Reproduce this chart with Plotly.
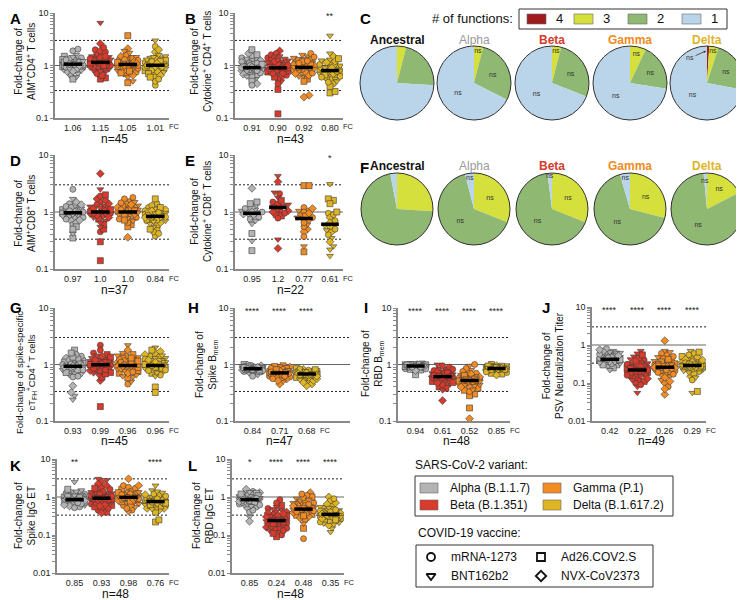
import numpy as np
import plotly.graph_objects as go

# page body keeps an 8px margin, so the figure is drawn 8px smaller and all
# reference pixel positions are shifted by OFF
OFF = 8
W, H = 744 - OFF, 600 - OFF
FONT = "Arial, Liberation Sans, sans-serif"

variants = ['Alpha', 'Beta', 'Gamma', 'Delta']
variant_colors = {'Alpha': '#b3b3b3', 'Beta': '#d83a2b', 'Gamma': '#f28b24', 'Delta': '#dfb523'}
vaccine_symbols = {'M': 'circle', 'B': 'triangle-down', 'A': 'square', 'N': 'diamond'}

# vaccine of each participant (same order in every panel)
participant_vaccine = ['M', 'B', 'A', 'N', 'M', 'B', 'M', 'A', 'B', 'N', 'M', 'B', 'A', 'M', 'N', 'B', 'M',
                       'B', 'A', 'N', 'M', 'B', 'M', 'A', 'N', 'B', 'M', 'B', 'A', 'N', 'M', 'B', 'M', 'A',
                       'N', 'B', 'M', 'B', 'A', 'N', 'M', 'B', 'M', 'A', 'N', 'B', 'M', 'B', 'N']

# ---- A: AIM+ CD4+ (n=45)
A_alpha = [1.05,0.98,1.2,0.85,1.1,1.3,0.92,1.0,1.15,0.75,1.4,1.08,0.95,1.25,0.88,1.6,1.02,0.7,1.12,0.97,1.35,0.8,1.18,1.5,0.9,1.06,0.65,1.22,1.0,0.85,1.9,1.1,0.93,1.3,0.78,1.45,1.04,0.6,1.16,0.99,2.05,0.88,1.28,0.55,1.07]
A_beta = [1.2,6.5,0.58,1.1,1.4,0.95,1.3,0.55,1.05,2.6,1.15,0.85,1.7,1.25,0.9,1.5,1.0,0.75,1.35,1.1,2.0,0.8,1.2,1.6,0.95,1.45,0.7,1.3,1.05,1.9,0.88,1.15,1.25,0.65,1.4,1.0,1.8,0.92,1.2,1.1,2.2,0.78,1.35,1.0,1.5]
A_gamma = [1.0,0.9,3.7,1.2,1.1,0.8,1.3,0.47,1.05,1.5,0.95,1.15,0.7,1.4,1.0,0.85,1.25,0.6,1.1,2.1,0.92,1.2,0.75,1.35,1.05,0.5,1.6,0.98,1.1,0.82,1.3,1.75,0.88,1.15,0.65,1.45,1.0,1.9,0.78,1.2,1.05,0.95,1.25,0.72,1.1]
A_delta = [0.95,1.1,0.8,1.3,0.42,1.0,1.2,0.7,1.5,0.9,1.05,3.0,0.6,1.15,0.85,1.4,0.98,0.75,1.25,1.8,0.5,1.1,0.92,1.35,0.65,1.0,2.3,0.88,1.2,0.78,1.05,1.6,0.55,1.15,0.95,1.45,0.82,1.3,0.7,2.0,1.0,0.9,1.2,0.6,1.1]
A_fc = ['1.06', '1.15', '1.05', '1.01']

# ---- B: Cytokine+ CD4+ (n=43)
B_alpha = [0.9,1.1,0.75,1.3,0.85,1.0,0.65,1.5,0.95,0.8,1.2,0.55,1.05,0.88,1.7,0.7,0.98,1.15,0.6,0.92,1.4,0.82,1.0,0.5,1.25,0.78,1.1,0.95,2.0,0.68,0.9,1.35,0.72,1.05,0.45,0.86,1.18,0.62,1.6,0.93,0.8,1.0,0.42]
B_beta = [0.95,1.2,0.35,0.8,1.4,0.7,1.0,0.12,1.1,0.6,1.3,0.88,0.75,1.6,0.92,0.5,1.05,1.25,0.82,1.9,0.65,1.0,1.45,0.78,0.95,1.15,0.55,1.35,0.9,0.72,1.7,0.85,1.08,0.6,1.2,0.98,0.45,1.5,0.8,1.02,0.7,1.28,0.9]
B_gamma = [0.95,1.1,0.8,0.27,1.3,0.7,1.0,0.88,1.5,0.25,1.2,0.6,0.92,1.05,0.75,1.4,0.85,1.15,0.55,1.0,1.7,0.78,0.95,1.25,0.65,1.08,0.9,1.35,0.5,1.0,0.82,1.6,0.72,1.18,0.97,0.62,1.45,0.86,1.02,0.7,1.22,0.93,1.1]
B_delta = [0.8,3.7,0.3,0.9,1.1,0.65,0.75,0.32,1.3,0.55,0.85,0.7,1.0,0.6,1.5,0.78,0.45,0.95,0.68,1.2,0.82,0.5,1.05,0.72,0.88,1.7,0.62,0.8,0.4,1.15,0.75,0.92,0.58,1.35,0.7,0.85,0.48,1.0,0.66,0.9,0.6,1.25,0.77]
B_fc = ['0.91', '0.90', '0.92', '0.80']
B_stars = ['', '', '', '**']

# ---- D: AIM+ CD8+ (n=37)
D_alpha = [1.0,0.9,0.35,1.2,2.5,0.42,0.8,1.1,0.95,0.7,1.3,0.85,1.05,0.6,1.5,0.92,0.75,1.15,1.0,0.65,1.4,0.88,1.25,0.55,0.98,1.1,0.8,1.7,0.95,0.72,1.2,0.9,1.05,0.5,1.35,0.85,1.0]
D_beta = [1.0,2.5,0.14,4.7,1.2,0.8,1.5,0.3,0.9,1.1,0.45,1.3,0.5,0.95,1.7,0.7,1.05,1.25,0.6,1.4,0.85,1.0,1.9,0.75,1.15,0.92,1.6,0.65,1.1,0.88,1.35,0.55,1.0,2.0,0.8,1.2,0.95]
D_gamma = [1.0,1.2,0.6,0.36,1.4,0.9,1.1,0.55,1.3,1.0,0.8,1.6,1.05,0.75,1.2,0.95,1.8,0.7,1.15,1.0,0.85,1.5,0.65,1.25,0.92,1.1,1.7,0.78,1.05,1.35,0.88,1.0,1.45,0.72,1.2,0.98,1.1]
D_delta = [0.85,0.7,0.5,1.0,0.38,0.9,1.2,0.6,0.8,1.1,0.45,0.95,0.75,1.4,0.65,0.88,1.05,0.55,1.7,0.82,0.7,1.15,0.92,0.5,1.0,0.78,1.3,0.62,0.86,1.05,0.72,0.95,0.42,1.2,0.8,0.68,0.98]
D_fc = ['0.97', '1.0', '1.0', '0.84']

# ---- E: Cytokine+ CD8+ (n=22)
E_alpha = [0.95,1.1,0.21,2.6,1.0,0.31,1.3,0.42,0.9,1.2,0.8,1.05,1.5,0.75,1.0,0.85,1.15,0.62,1.4,0.92,1.0,0.7]
E_beta = [1.2,4.3,1.0,3.4,1.5,0.33,2.1,0.9,1.3,0.23,1.1,2.2,0.85,1.4,1.0,1.8,0.78,1.25,1.6,1.05,0.95,1.35]
E_gamma = [0.8,1.1,2.9,0.5,1.2,0.25,0.9,2.9,0.7,0.45,1.0,0.6,0.85,0.37,1.15,0.75,0.55,1.05,0.2,0.95,0.65,0.8]
E_delta = [0.6,3.1,1.6,0.45,0.95,0.25,0.5,1.7,0.35,0.8,0.55,0.17,1.4,0.4,0.65,0.22,0.9,0.48,1.0,0.3,0.7,0.58]
E_fc = ['0.95', '1.2', '0.77', '0.61']
E_stars = ['', '', '', '*']

# ---- G: spike-specific cTFH (n=45)
G_alpha = [0.95,0.28,1.8,0.42,1.0,0.24,0.9,1.1,0.85,0.32,1.2,0.8,1.05,0.75,1.3,0.92,1.0,0.7,1.15,0.88,1.4,0.65,0.98,1.25,0.82,1.05,0.6,0.95,1.1,0.78,1.5,0.9,1.0,0.72,1.2,0.86,1.02,0.68,1.35,0.94,0.8,1.08,0.62,1.6,0.9]
G_beta = [1.0,1.2,0.18,0.52,2.2,0.9,1.1,0.8,1.3,0.95,1.05,0.7,1.5,0.88,1.0,1.15,0.75,1.25,0.6,1.4,0.92,1.0,1.8,0.82,1.1,0.65,1.2,0.97,1.35,0.78,1.05,0.9,1.6,0.72,1.0,1.15,0.85,1.3,0.68,1.08,0.95,1.45,0.8,1.0,1.2]
G_gamma = [0.95,1.2,0.8,1.1,0.45,1.0,1.4,0.7,2.2,0.9,1.05,0.6,1.3,0.85,1.15,0.5,1.0,1.6,0.75,0.92,1.25,0.65,1.1,0.88,1.8,0.78,1.0,1.35,0.58,0.96,1.2,0.82,1.05,1.5,0.7,0.9,1.1,0.62,1.3,0.86,1.0,1.45,0.74,1.15,0.94]
G_delta = [1.0,1.2,0.4,0.85,1.4,2.0,0.9,0.32,1.1,0.75,1.05,1.3,0.95,0.65,1.6,0.88,1.0,1.2,0.7,1.5,0.92,1.1,0.8,1.8,0.97,0.62,1.25,0.85,1.05,1.35,0.78,1.0,1.15,0.9,1.7,0.72,1.02,1.3,0.86,1.1,0.95,1.45,0.8,1.0,1.2]
G_fc = ['0.93', '0.99', '0.96', '0.96']

# ---- H: Spike Bmem (n=47), Alpha / Gamma / Delta
H_alpha = [0.84,0.9,0.78,0.95,0.82,0.88,0.75,1.0,0.86,0.8,0.92,0.7,0.85,0.97,0.83,0.77,0.89,0.65,0.87,0.93,0.81,0.9,0.74,0.86,0.98,0.8,0.84,0.72,0.91,0.85,0.79,0.94,0.83,0.88,0.76,0.86,0.62,0.9,0.82,0.87,0.78,0.95,0.84,0.8,0.89,0.85,0.81]
H_gamma = [0.72,0.65,0.8,0.9,0.6,0.75,0.68,0.95,0.7,0.55,0.78,0.73,0.85,0.62,0.7,0.5,0.76,0.66,0.88,0.71,0.58,0.74,0.82,0.69,0.45,0.77,0.64,0.72,0.92,0.6,0.7,0.8,0.67,0.75,0.52,0.73,0.86,0.63,0.71,0.78,0.56,0.69,0.74,0.81,0.66,0.72,0.62]
H_delta = [0.68,0.6,0.75,0.82,0.55,0.7,0.64,0.85,0.5,0.72,0.66,0.78,0.58,0.69,0.45,0.74,0.62,0.8,0.67,0.52,0.71,0.6,0.76,0.65,0.42,0.7,0.83,0.63,0.68,0.56,0.73,0.61,0.79,0.66,0.48,0.7,0.64,0.77,0.59,0.69,0.72,0.54,0.67,0.81,0.62,0.7,0.65]
H_fc = ['0.84', '0.71', '0.68']
H_stars = ['****', '****', '****']

# ---- I: RBD Bmem (n=48)
I_alpha = [0.94,0.9,0.66,1.0,0.92,0.96,0.88,1.02,0.95,0.85,0.98,0.93,0.8,0.97,0.91,1.05,0.94,0.87,0.99,0.92,0.84,0.96,0.9,1.0,0.93,0.86,0.98,0.95,0.82,0.94,1.01,0.89,0.96,0.92,0.78,0.97,0.93,0.88,1.0,0.95,0.9,0.94,0.83,0.98,0.92,0.96,0.9,0.94]
I_beta = [0.6,0.7,0.5,0.23,0.8,0.55,0.65,0.45,1.0,0.62,0.58,0.75,0.4,0.68,0.52,0.85,0.6,0.72,0.48,0.64,0.9,0.56,0.66,0.38,0.7,0.61,0.78,0.5,0.63,0.55,0.82,0.67,0.44,0.6,0.74,0.57,0.65,0.35,0.69,0.59,0.95,0.53,0.62,0.71,0.47,0.66,0.58,0.64]
I_gamma = [0.5,0.6,0.17,0.11,0.7,0.45,0.55,0.35,0.95,0.52,0.4,0.65,0.3,0.58,0.48,0.8,0.5,0.62,0.38,0.54,1.0,0.44,0.57,0.28,0.6,0.5,0.72,0.42,0.53,0.46,0.85,0.56,0.33,0.51,0.68,0.47,0.59,0.36,0.55,0.49,0.75,0.43,0.52,0.64,0.4,0.57,0.5,0.54]
I_delta = [0.85,0.9,0.78,0.95,0.82,0.88,0.72,1.0,0.86,0.8,0.92,0.84,0.7,0.87,0.83,0.97,0.85,0.79,0.9,0.81,0.75,0.88,0.84,0.93,0.86,0.77,0.89,0.82,0.68,0.85,0.91,0.8,0.87,0.83,0.65,0.9,0.84,0.78,0.94,0.86,0.81,0.85,0.74,0.88,0.83,0.87,0.8,0.85]
I_fc = ['0.94', '0.61', '0.52', '0.85']
I_stars = ['****', '****', '****', '****']

# ---- J: PSV neutralization (n=49)
J_alpha = [0.42,0.5,0.35,0.6,0.45,0.38,0.55,0.3,0.7,0.44,0.4,0.48,0.25,0.52,0.36,0.65,0.43,0.33,0.58,0.41,0.46,0.28,0.8,0.39,0.5,0.42,0.32,0.62,0.44,0.37,0.54,0.22,0.47,0.4,0.68,0.35,0.45,0.5,0.3,0.43,0.57,0.38,0.48,0.41,0.75,0.34,0.46,0.4,0.52]
J_beta = [0.22,0.055,0.3,0.15,0.4,0.2,0.12,0.25,0.6,0.18,0.1,0.28,0.22,0.35,0.14,0.08,0.24,0.5,0.19,0.3,0.16,0.7,0.21,0.11,0.26,0.33,0.17,0.23,0.45,0.13,0.2,0.29,0.09,0.25,0.38,0.18,0.22,0.15,0.55,0.27,0.2,0.12,0.31,0.24,0.19,0.42,0.16,0.23,0.21]
J_gamma = [0.26,0.35,0.2,1.3,0.4,0.15,0.3,0.55,0.22,0.1,0.28,0.7,0.18,0.33,0.05,0.25,0.45,0.12,0.3,0.24,0.6,0.2,0.08,0.36,0.27,0.16,0.5,0.23,0.32,0.14,0.29,0.65,0.21,0.26,0.07,0.38,0.19,0.3,0.42,0.25,0.17,0.34,0.22,0.28,0.11,0.48,0.24,0.31,0.26]
J_delta = [0.29,0.055,0.06,0.35,0.4,0.22,0.3,0.5,0.25,0.15,0.32,0.7,0.27,0.2,0.38,0.3,0.12,0.45,0.26,0.33,0.6,0.24,0.28,0.18,0.36,0.31,0.55,0.21,0.3,0.42,0.27,0.14,0.34,0.25,0.48,0.29,0.23,0.37,0.65,0.3,0.26,0.19,0.33,0.28,0.4,0.24,0.32,0.27,0.3]
J_fc = ['0.42', '0.22', '0.26', '0.29']
J_stars = ['****', '****', '****', '****']

# ---- K: Spike IgG ET (n=48)
K_alpha = [0.85,2.5,0.7,1.1,0.9,0.6,1.2,0.8,0.95,0.65,1.3,0.75,1.0,0.55,0.88,1.5,0.78,0.92,0.68,1.05,0.82,1.4,0.72,0.9,0.58,1.15,0.86,0.76,1.0,0.62,1.25,0.84,0.7,0.96,0.8,1.1,0.66,0.89,1.6,0.74,0.93,0.83,0.52,1.02,0.79,0.87,0.71,0.9]
K_beta = [0.9,3.0,0.5,1.2,0.7,1.5,0.95,0.4,1.1,2.5,0.8,1.3,0.6,1.0,1.8,0.75,0.45,1.15,0.88,2.0,0.65,1.05,1.4,0.55,0.92,2.8,0.72,1.25,0.85,0.38,1.6,0.97,0.68,1.1,2.2,0.78,0.5,1.35,0.9,0.62,1.2,1.0,0.82,1.7,0.58,0.94,1.05,0.86]
K_gamma = [1.0,1.3,0.8,3.0,0.6,1.1,0.9,1.6,0.7,1.2,0.45,1.05,0.85,2.0,0.95,0.65,1.4,1.0,0.75,1.15,1.8,0.55,0.92,1.25,0.82,1.5,1.0,0.4,1.1,0.88,1.7,0.7,1.2,0.97,0.6,1.35,0.9,1.05,0.78,2.0,0.95,1.1,0.5,1.3,0.86,1.0,1.15,0.92]
K_delta = [0.76,2.0,0.22,0.9,0.6,0.8,1.1,0.25,0.7,0.5,0.85,1.3,0.65,0.78,0.45,0.95,0.72,1.5,0.58,0.82,0.68,1.0,0.75,0.4,0.88,0.62,1.2,0.79,0.55,0.74,0.92,0.66,1.05,0.7,0.5,0.84,0.77,1.4,0.6,0.8,0.73,0.48,0.9,0.69,1.15,0.64,0.81,0.76]
K_fc = ['0.85', '0.93', '0.98', '0.76']
K_stars = ['**', '', '', '****']

# ---- L: RBD IgG ET (n=48)
L_alpha = [0.85,1.0,0.7,1.2,0.9,0.6,1.4,0.8,0.95,0.5,1.1,0.75,0.88,0.4,1.3,0.82,0.65,1.05,0.92,1.6,0.72,0.86,0.55,1.15,0.8,0.3,0.98,0.78,1.25,0.68,0.9,0.84,0.45,1.08,0.76,1.35,0.62,0.94,0.8,0.23,1.0,0.87,0.7,1.2,0.83,0.58,0.92,0.85]
L_beta = [0.24,0.3,0.15,0.4,0.2,0.12,0.5,0.26,0.18,0.35,0.1,0.22,0.6,0.28,0.16,0.45,0.25,0.13,0.32,0.21,0.85,0.19,0.27,0.09,0.38,0.23,0.14,0.55,0.29,0.2,0.17,0.42,0.24,0.11,0.33,0.26,0.7,0.18,0.22,0.3,0.15,0.48,0.25,0.2,0.36,0.23,0.13,0.27]
L_gamma = [0.48,0.6,0.35,1.3,0.08,0.5,0.7,0.4,0.9,0.3,0.55,0.45,1.0,0.25,0.62,0.52,0.38,0.8,0.15,0.5,0.66,0.42,1.1,0.33,0.57,0.47,0.75,0.2,0.53,0.44,0.95,0.36,0.6,0.49,0.28,0.7,0.43,0.85,0.51,0.39,0.64,0.46,1.2,0.32,0.58,0.5,0.41,0.55]
L_delta = [0.35,0.45,0.25,0.6,0.3,0.2,0.5,0.38,0.15,0.7,0.32,0.28,0.42,0.22,1.0,0.36,0.26,0.55,0.33,0.18,0.4,0.3,0.8,0.24,0.37,0.12,0.47,0.34,0.29,0.65,0.36,0.21,0.43,0.31,0.27,0.52,0.35,0.19,0.39,0.33,0.9,0.28,0.41,0.25,0.36,0.3,0.46,0.34]
L_fc = ['0.85', '0.24', '0.48', '0.35']
L_stars = ['*', '****', '****', '****']

# ---- C / F pies: % of cells with 4, 3, 2, 1 functions
func_labels = ['4', '3', '2', '1']
func_colors = ['#9e1c1c', '#d6e03c', '#8fb872', '#bad4ea']
pie_names = ['Ancestral', 'Alpha', 'Beta', 'Gamma', 'Delta']
pie_name_colors = ['#111111', '#9a9a9a', '#d63b2d', '#f08a24', '#dfb42a']
C_ancestral = [0, 4, 22, 74]
C_alpha = [0, 4, 28.5, 67.5]
C_beta = [0, 4, 27, 69]
C_gamma = [0, 7, 20.5, 72.5]
C_delta = [1, 4, 23, 72]
F_ancestral = [0, 26, 71, 3]
F_alpha = [0, 31, 65, 4]
F_beta = [0, 31, 67, 2]
F_gamma = [0, 29, 66.5, 4.5]
F_delta = [0, 17.5, 81, 1.5]


def xp(x):
    return max(x - OFF, 0) / W


def yp(y):
    return 1 - max(y - OFF, 0) / H


def swarm(values, center, ppu, ppd, r=3.9, step=1.7, max_off=11):
    ys = np.log10(values) * ppd
    order = np.argsort(ys)
    cands = [0.0]
    k = 1
    while k * step <= max_off:
        cands += [k * step, -k * step]
        k += 1
    placed = []
    offs = np.zeros(len(values))
    for i in order:
        y = ys[i]
        best = None
        for c in cands:
            if all((c - a) ** 2 + (y - b) ** 2 >= r * r for a, b in placed):
                best = c
                break
        if best is None:
            best = max(cands, key=lambda c: min((c - a) ** 2 + (y - b) ** 2 for a, b in placed))
        placed.append((best, y))
        offs[i] = best
    return center + offs / ppu


def log_ticks(lo, hi):
    vals, text = [], []
    for e in range(lo, hi):
        for m in range(1, 10):
            vals.append(m * 10.0 ** e)
            text.append(f'{10.0 ** e:g}' if m == 1 else '')
    vals.append(10.0 ** hi)
    text.append(f'{10.0 ** hi:g}')
    return vals, text


panels = [
    dict(letter='A', groups=variants, data=[A_alpha, A_beta, A_gamma, A_delta], fc=A_fc, stars=None, n=45,
         box=(55, 13, 169, 118), yr=(-1, 1), xr=(-0.65, 3.5),
         title='Fold-change of<br>AIM<sup>+</sup>CD4<sup>+</sup> T cells', txy=(25, 62), lxy=(1, 2)),
    dict(letter='B', groups=variants, data=[B_alpha, B_beta, B_gamma, B_delta], fc=B_fc, stars=B_stars, n=43,
         box=(235, 13, 343, 118), yr=(-1, 1), xr=(-0.65, 3.5),
         title='Fold-change of<br>Cytokine<sup>+</sup> CD4<sup>+</sup> T cells', txy=(201, 62), lxy=(183, 2)),
    dict(letter='D', groups=variants, data=[D_alpha, D_beta, D_gamma, D_delta], fc=D_fc, stars=None, n=37,
         box=(55, 155, 169, 269), yr=(-1, 1), xr=(-0.65, 3.5),
         title='Fold-change of<br>AIM<sup>+</sup>CD8<sup>+</sup> T cells', txy=(25, 214), lxy=(1, 150)),
    dict(letter='E', groups=variants, data=[E_alpha, E_beta, E_gamma, E_delta], fc=E_fc, stars=E_stars, n=22,
         box=(235, 155, 343, 269), yr=(-1, 1), xr=(-0.65, 3.5),
         title='Fold-change of<br>Cytokine<sup>+</sup> CD8<sup>+</sup> T cells', txy=(201, 212), lxy=(183, 150)),
    dict(letter='G', groups=variants, data=[G_alpha, G_beta, G_gamma, G_delta], fc=G_fc, stars=None, n=45,
         box=(55, 308, 169, 421), yr=(-1, 1), xr=(-0.65, 3.5),
         title='Fold-change of spike-specific<br>cT<sub>FH</sub><sup>+</sup>CD4<sup>+</sup> T cells',
         txy=(26, 373), tsize=9.5, lxy=(1, 297)),
    dict(letter='H', groups=['Alpha', 'Gamma', 'Delta'], data=[H_alpha, H_gamma, H_delta], fc=H_fc, stars=H_stars,
         n=47, box=(235, 308, 350, 421), yr=(-1, 1), xr=(-0.65, 3.6),
         title='Fold-change of<br>Spike B<sub>mem</sub>', txy=(206, 364), lxy=(186, 297)),
    dict(letter='I', groups=variants, data=[I_alpha, I_beta, I_gamma, I_delta], fc=I_fc, stars=I_stars, n=48,
         box=(398, 308, 510, 421), yr=(-1, 1), xr=(-0.65, 3.5),
         title='Fold-change of<br>RBD B<sub>mem</sub>', txy=(372, 364), lxy=(362, 297)),
    dict(letter='J', groups=variants, data=[J_alpha, J_beta, J_gamma, J_delta], fc=J_fc, stars=J_stars, n=49,
         box=(592, 307, 706, 421), yr=(-2, 1), xr=(-0.65, 3.5),
         title='Fold-change of<br>PSV Neutralization Titer', txy=(553, 366), lxy=(540, 297)),
    dict(letter='K', groups=variants, data=[K_alpha, K_beta, K_gamma, K_delta], fc=K_fc, stars=K_stars, n=48,
         box=(57, 459, 169, 573), yr=(-2, 1), xr=(-0.65, 3.5),
         title='Fold-change of<br>Spike IgG ET', txy=(25, 516), lxy=(1, 455)),
    dict(letter='L', groups=variants, data=[L_alpha, L_beta, L_gamma, L_delta], fc=L_fc, stars=L_stars, n=48,
         box=(232, 459, 344, 573), yr=(-2, 1), xr=(-0.65, 3.5),
         title='Fold-change of<br>RBD IgG ET', txy=(203, 516), lxy=(186, 455)),
]

fig = go.Figure()
annotations = []
shapes = []
layout_axes = {}


def note(text, x, y, size, color='#111', xanchor='center', yanchor='middle', **kw):
    d = dict(text=text, x=x, y=y, showarrow=False, xanchor=xanchor, yanchor=yanchor,
             font=dict(size=size, color=color))
    d.setdefault('xref', 'paper')
    d.setdefault('yref', 'paper')
    d.update(kw)
    annotations.append(d)


for k, p in enumerate(panels, start=1):
    xa = 'x' if k == 1 else f'x{k}'
    ya = 'y' if k == 1 else f'y{k}'
    x0, y0, x1, y1 = p['box']
    xr, yr = p['xr'], p['yr']
    ppu = (x1 - x0) / (xr[1] - xr[0])
    ppd = (y1 - y0) / (yr[1] - yr[0])

    for lvl, dash, col in [(3, '2px,2px', '#222'), (1, 'solid', '#666'), (1 / 3, '2px,2px', '#222')]:
        fig.add_trace(go.Scatter(x=list(xr), y=[lvl, lvl], mode='lines', xaxis=xa, yaxis=ya,
                                 line=dict(color=col, width=1, dash=dash), hoverinfo='skip'))

    for j, (grp, vals) in enumerate(zip(p['groups'], p['data'])):
        xs = swarm(vals, j, ppu, ppd)
        syms = [vaccine_symbols[participant_vaccine[i % len(participant_vaccine)]] for i in range(len(vals))]
        fig.add_trace(go.Scatter(x=xs, y=vals, mode='markers', xaxis=xa, yaxis=ya,
                                 marker=dict(size=6, color=variant_colors[grp], symbol=syms,
                                             line=dict(color='#3a3a3a', width=0.6))))
        g = float(p['fc'][j])
        fig.add_trace(go.Scatter(x=[j - 0.34, j + 0.34], y=[g, g], mode='lines', xaxis=xa, yaxis=ya,
                                 line=dict(color='black', width=3.5), hoverinfo='skip'))

    ng = len(p['groups'])
    tv, tt = log_ticks(*yr)
    layout_axes['xaxis' if k == 1 else f'xaxis{k}'] = dict(
        domain=[xp(x0), xp(x1)], range=list(xr), anchor=ya, showgrid=False, zeroline=False, automargin=False,
        showline=True, linecolor='#888', linewidth=1.5, ticks='',
        tickvals=list(range(ng)), ticktext=p['fc'], tickfont=dict(size=9, color='#222'))
    layout_axes['yaxis' if k == 1 else f'yaxis{k}'] = dict(
        domain=[yp(y1), yp(y0)], range=list(yr), type='log', anchor=xa, showgrid=False, zeroline=False,
        automargin=False, showline=True, linecolor='#888', linewidth=1.5, ticks='outside', ticklen=3,
        tickcolor='#888', tickwidth=1, tickvals=tv, ticktext=tt, tickfont=dict(size=9, color='#222'))

    note('FC', ng - 1 + 0.42, yp(y1 + 9), 7.5, '#222', xanchor='left', xref=xa)
    n_y = {118: 139, 269: 290, 421: 441, 573: 594}[y1]
    note(f"n={p['n']}", (ng - 1) / 2, yp(n_y), 12, xref=xa)
    if p['stars']:
        for j, s in enumerate(p['stars']):
            if s:
                note(s, j, yr[1], 9, '#222', xref=xa, yref=ya, yshift=-3)
    note(p['title'], xp(p['txy'][0]), yp(p['txy'][1]), p.get('tsize', 10), textangle=-90)
    note(f"<b>{p['letter']}</b>", xp(p['lxy'][0]), yp(p['lxy'][1]), 15, '#000', xanchor='left', yanchor='top')

# ---- pies
pie_rows = [
    dict(letter='C', data=[C_ancestral, C_alpha, C_beta, C_gamma, C_delta], cy=83, r=37, ty=40, lxy=(358, 2)),
    dict(letter='F', data=[F_ancestral, F_alpha, F_beta, F_gamma, F_delta], cy=209, r=36, ty=166, lxy=(358, 157)),
]
pie_cx = [397, 474, 552, 630, 707]
for row in pie_rows:
    for name, ncol, vals, cx in zip(pie_names, pie_name_colors, row['data'], pie_cx):
        cy, r = row['cy'], row['r']
        # slices too thin for an inside label get their "ns" as a separate note below
        txt = ['' if (v < 2 or name == 'Ancestral') else 'ns' for v in vals]
        fig.add_trace(go.Pie(values=vals, labels=func_labels, sort=False, direction='clockwise', rotation=0,
                             marker=dict(colors=func_colors, line=dict(width=0)),
                             text=txt, textinfo='text', textposition='inside', insidetextorientation='horizontal',
                             textfont=dict(size=7, color='#333'), hoverinfo='skip', showlegend=False,
                             domain=dict(x=[xp(cx - r), xp(cx + r)], y=[yp(cy + r), yp(cy - r)])))
        shapes.append(dict(type='circle', xref='paper', yref='paper', x0=xp(cx - r), x1=xp(cx + r),
                           y0=yp(cy + r), y1=yp(cy - r), line=dict(color='#333', width=1)))
        note(f'<b>{name}</b>' if name != 'Alpha' else name, xp(cx), yp(row['ty']), 12, ncol)
    note(f"<b>{row['letter']}</b>", xp(row['lxy'][0]), yp(row['lxy'][1]), 15, '#000',
         xanchor='left', yanchor='top')

# "ns" for the thin Delta slices
annotations.append(dict(text='ns', x=xp(706), y=yp(51), xref='paper', yref='paper', showarrow=True,
                        ax=-16, ay=7, arrowhead=2, arrowsize=0.6, arrowwidth=0.8, arrowcolor='#333',
                        font=dict(size=7, color='#333')))
note('ns', xp(705), yp(180), 7, '#333')

# ---- "# of functions" key
shapes.append(dict(type='rect', xref='paper', yref='paper', x0=xp(519), x1=xp(727), y0=yp(29), y1=yp(9),
                   line=dict(color='#333', width=1)))
note('# of functions:', xp(515), yp(18.5), 13, xanchor='right')
for lab, col, sx in zip(func_labels, func_colors, [527, 574, 628, 682]):
    shapes.append(dict(type='rect', xref='paper', yref='paper', x0=xp(sx), x1=xp(sx + 19), y0=yp(24), y1=yp(14),
                       fillcolor=col, line=dict(color='#666', width=0.6)))
    note(lab, xp(sx + 27), yp(19), 13, xanchor='left')

# ---- variant key
note('SARS-CoV-2 variant:', xp(413), yp(465), 12, xanchor='left')
shapes.append(dict(type='rect', xref='paper', yref='paper', x0=xp(415), x1=xp(673), y0=yp(516), y1=yp(476),
                   line=dict(color='#333', width=1)))
variant_labels = ['Alpha (B.1.1.7)', 'Beta (B.1.351)', 'Gamma (P.1)', 'Delta (B.1.617.2)']
for lab, v, (sx, sy) in zip(variant_labels, variants, [(420, 488), (420, 505), (543, 488), (543, 505)]):
    shapes.append(dict(type='rect', xref='paper', yref='paper', x0=xp(sx), x1=xp(sx + 18), y0=yp(sy + 5),
                       y1=yp(sy - 5), fillcolor=variant_colors[v], line=dict(color='#666', width=0.6)))
    note(lab, xp(sx + 28), yp(sy), 12, xanchor='left')

# ---- vaccine key (overlay axis in screen pixel units)
note('COVID-19 vaccine:', xp(416), yp(533), 12, xanchor='left')
shapes.append(dict(type='rect', xref='paper', yref='paper', x0=xp(416), x1=xp(653), y0=yp(587), y1=yp(545),
                   line=dict(color='#333', width=1)))
vaccine_labels = ['mRNA-1273', 'BNT162b2', 'Ad26.COV2.S', 'NVX-CoV2373']
vaccine_codes = ['M', 'B', 'A', 'N']
key_pos = [(431, 557), (431, 576), (541, 557), (541, 576)]
fig.add_trace(go.Scatter(x=[p[0] for p in key_pos], y=[p[1] for p in key_pos], mode='markers',
                         xaxis='x11', yaxis='y11', hoverinfo='skip',
                         marker=dict(symbol=[vaccine_symbols[c] + '-open' for c in vaccine_codes], size=8,
                                     color='#111', line=dict(width=1.8, color='#111'))))
for lab, (sx, sy) in zip(vaccine_labels, key_pos):
    note(lab, xp(sx + 18), yp(sy), 12, xanchor='left')
layout_axes['xaxis11'] = dict(domain=[0, 1], range=[OFF, OFF + W], visible=False, anchor='y11', automargin=False)
layout_axes['yaxis11'] = dict(domain=[0, 1], range=[OFF + H, OFF], visible=False, anchor='x11', automargin=False)

fig.update_layout(width=W, height=H, margin=dict(l=0, r=0, t=0, b=0, autoexpand=False), showlegend=False,
                  paper_bgcolor='white', plot_bgcolor='rgba(0,0,0,0)', font=dict(family=FONT, color='#111'),
                  annotations=annotations, shapes=shapes, uniformtext=dict(minsize=7, mode='show'),
                  **layout_axes)
fig.write_html("out.html")
